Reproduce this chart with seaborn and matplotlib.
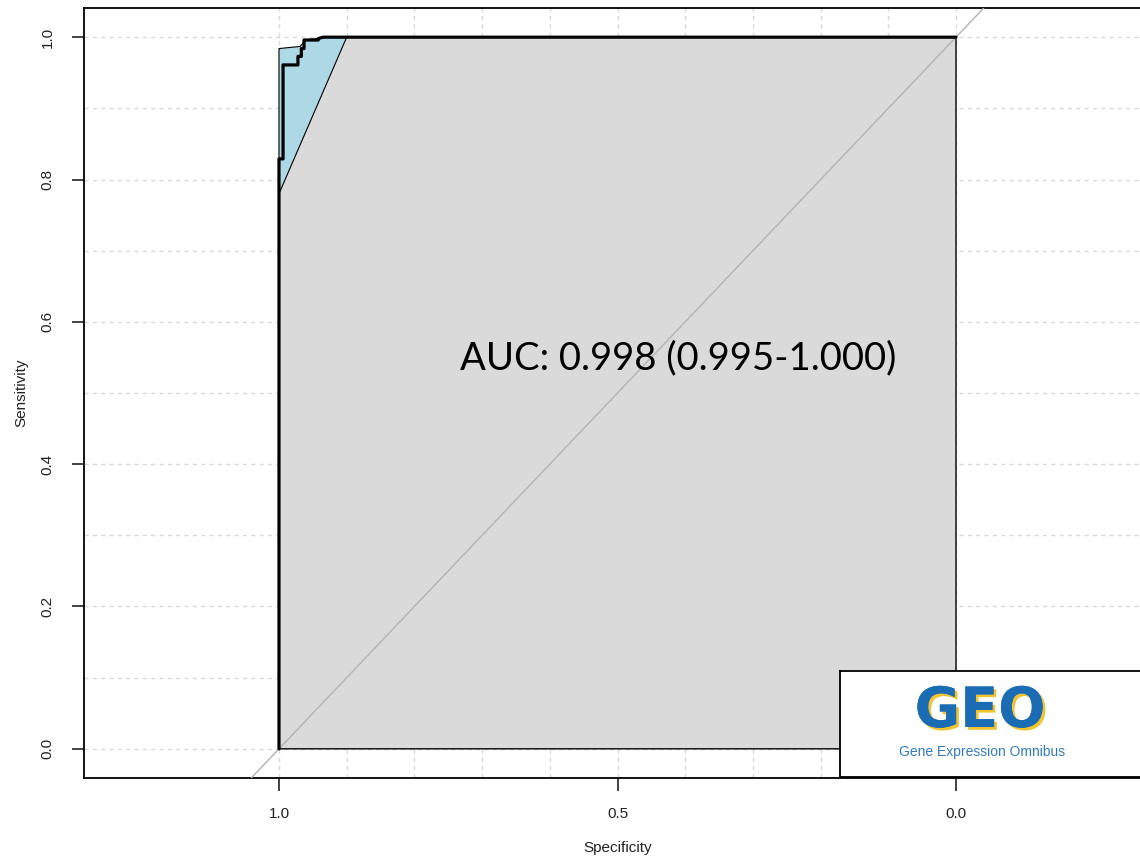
import matplotlib
matplotlib.use("Agg")
import matplotlib.pyplot as plt
import matplotlib.patheffects as pe
import seaborn as sns
import pandas as pd
import numpy as np

# ROC curve vertices (specificity, sensitivity)
roc_spec = [1.0, 1.0, 0.994, 0.994, 0.972, 0.972, 0.967, 0.967, 0.963, 0.963, 0.942, 0.942, 0.935, 0.0]
roc_sens = [0.0, 0.829, 0.829, 0.961, 0.961, 0.973, 0.973, 0.984, 0.984, 0.996, 0.996, 0.998, 1.0, 1.0]

# confidence band of sensitivity
ci_upper_spec = [1.0, 0.969, 0.966, 0.962, 0.955, 0.94, 0.93, 0.0]
ci_upper_sens = [0.984, 0.987, 0.990, 0.995, 0.997, 0.998, 1.0, 1.0]
ci_lower_spec = [0.0, 0.9, 1.0]
ci_lower_sens = [1.0, 1.0, 0.78]

auc_label = "AUC: 0.998 (0.995-1.000)"
x_ticks = [1.0, 0.5, 0.0]
y_ticks = [0.0, 0.2, 0.4, 0.6, 0.8, 1.0]

sns.set_theme(style="white")
plt.rcParams['font.family'] = ['Liberation Sans', 'DejaVu Sans']

fig = plt.figure(figsize=(11.4, 8.59), dpi=100)
ax = fig.add_axes([84 / 1140, 81 / 859, 1067 / 1140, 770 / 859])
ax.set_xlim(1.288, -0.288)
ax.set_ylim(-0.041, 1.041)

# grid like R's abline(h=, v=)
grid_vals = np.round(np.arange(0, 1.01, 0.1), 1)
for g in grid_vals:
    ax.axhline(g, color="#d9d9d9", lw=1, ls=(0, (3, 3)), zorder=1)
    ax.axvline(g, color="#d9d9d9", lw=1, ls=(0, (3, 3)), zorder=1)

# AUC polygon
poly_x = roc_spec + [0.0]
poly_y = roc_sens + [0.0]
ax.fill(poly_x, poly_y, facecolor="#dadada", edgecolor="black", lw=1, zorder=2)

# CI polygon
ci_x = ci_upper_spec + ci_lower_spec
ci_y = ci_upper_sens + ci_lower_sens
ax.fill(ci_x, ci_y, facecolor="#add8e6", edgecolor="black", lw=0.8, zorder=3)

# identity line
ax.axline((1.0, 0.0), (0.0, 1.0), color="#b3b3b3", lw=1, zorder=4)

# ROC curve
df = pd.DataFrame({"spec": roc_spec, "sens": roc_sens})
sns.lineplot(data=df, x="spec", y="sens", sort=False, estimator=None,
             color="black", lw=2.3, ax=ax, zorder=5)

ax.text(0.7326, 0.534, auc_label, fontsize=27.5, ha="left", va="baseline", color="black",
        family=["Liberation Sans Narrow", "Lato", "DejaVu Sans"], zorder=6)

ax.set_xticks(x_ticks)
ax.set_xticklabels(["1.0", "0.5", "0.0"])
ax.set_yticks(y_ticks)
ax.set_yticklabels([f"{v:.1f}" for v in y_ticks], rotation=90, va="center")
ax.tick_params(axis="both", direction="out", length=9, width=1.3, color="#333333",
               labelsize=11, labelcolor="#222222", pad=12,
               bottom=True, left=True)
ax.set_xlabel("Specificity", fontsize=11, labelpad=14, color="#222222")
ax.set_ylabel("Sensitivity", fontsize=11, labelpad=9, color="#222222")
for s in ax.spines.values():
    s.set_color("black")
    s.set_linewidth(1.3)

# logo box
lax = fig.add_axes([840 / 1140, 82 / 859, 310 / 1140, 106 / 859])
lax.set_xticks([])
lax.set_yticks([])
lax.set_facecolor("white")
for s in lax.spines.values():
    s.set_color("black")
    s.set_linewidth(1.3)
lax.set_xlim(840, 1150)
lax.set_ylim(777, 671)
lax.text(980, 712, "GEO", fontsize=40, fontweight="bold",
         color="#1a6db5", ha="center", va="center", family="DejaVu Sans",
         path_effects=[pe.withSimplePatchShadow(offset=(2, -2), shadow_rgbFace="#f2c230", alpha=1.0),
                       pe.Normal()])
lax.text(982, 752, "Gene Expression Omnibus", fontsize=10, color="#2f7cc0",
         ha="center", va="center")

fig.savefig("out.png", dpi=100)
